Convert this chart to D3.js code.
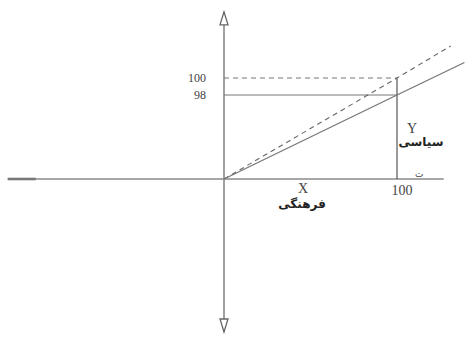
<!DOCTYPE html>
<html>
<head>
<meta charset="utf-8">
<script src="https://cdn.jsdelivr.net/npm/d3@7"></script>
<style>
body{margin:0;background:#fff;}
text{font-family:"Liberation Serif","DejaVu Serif",serif;fill:#444;}
</style>
</head>
<body>
<svg id="chart" width="465" height="342"></svg>
<script>
//data
var yTicks=[98,100];
var xTicks=[100];
var solidLine=[[0,0],[100,98],[139,115]];
var dashedLine=[[0,0],[100,100],[131,131]];
var axisX=[-125,127];
var axisY=[-160,164];
var xName=["X","فرهنگی"];
var yName=["Y","سیاسی"];

var svg=d3.select("#chart");
//piecewise scale, the sketch is not to scale
var x=d3.scaleLinear().domain([0,100]).range([224,397]);
var y=d3.scaleLinear().domain([-160,0,98,100,140]).range([332,179,95,78,36.7]);
var line=d3.line().x(function(d){return x(d[0]);}).y(function(d){return y(d[1]);});
var grey="#8a8a8a";

//axes
svg.append("line").attr("x1",x(axisX[0])).attr("x2",x(axisX[1])).attr("y1",y(0)).attr("y2",y(0))
    .attr("stroke",grey).attr("stroke-width",1.6);
svg.append("line").attr("x1",x(axisX[0])).attr("x2",x(axisX[0])+28).attr("y1",y(0)).attr("y2",y(0))
    .attr("stroke","#777").attr("stroke-width",2.6);
svg.append("line").attr("x1",x(0)).attr("x2",x(0)).attr("y1",y(axisY[0])).attr("y2",y(axisY[1]))
    .attr("stroke",grey).attr("stroke-width",1.6);
//arrow heads
var yTop=y(axisY[1]),yBot=y(axisY[0]),cx=x(0);
svg.append("path").attr("d","M"+cx+","+yTop+"L"+(cx-4)+","+(yTop+13)+"L"+(cx+4)+","+(yTop+13)+"Z")
    .attr("fill","#fff").attr("stroke","#666").attr("stroke-width",1.3);
svg.append("path").attr("d","M"+cx+","+yBot+"L"+(cx-4)+","+(yBot-13)+"L"+(cx+4)+","+(yBot-13)+"Z")
    .attr("fill","#fff").attr("stroke","#666").attr("stroke-width",1.3);

//guides
svg.append("line").attr("x1",x(0)).attr("x2",x(100)).attr("y1",y(100)).attr("y2",y(100))
    .attr("stroke","#777").attr("stroke-dasharray","5,4").attr("stroke-width",1);
svg.append("line").attr("x1",x(0)).attr("x2",x(100)).attr("y1",y(98)).attr("y2",y(98))
    .attr("stroke","#777").attr("stroke-width",1);
svg.append("line").attr("x1",x(100)).attr("x2",x(100)).attr("y1",y(100)).attr("y2",y(0))
    .attr("stroke","#555").attr("stroke-width",1.2);

//lines
svg.append("path").datum(dashedLine).attr("d",line).attr("fill","none")
    .attr("stroke","#666").attr("stroke-dasharray","5,4").attr("stroke-width",1.1);
svg.append("path").datum(solidLine).attr("d",line).attr("fill","none")
    .attr("stroke","#777").attr("stroke-width",1.3);

//tick labels
svg.selectAll(".yt").data(yTicks).enter().append("text")
    .attr("x",206).attr("y",function(d){return y(d)+4;})
    .attr("text-anchor","end").attr("font-size",12).text(function(d){return d;});
svg.selectAll(".xt").data(xTicks).enter().append("text")
    .attr("x",function(d){return x(d)+5;}).attr("y",195)
    .attr("text-anchor","middle").attr("font-size",14).text(function(d){return d;});
svg.append("text").attr("x",x(100)+18).attr("y",177).attr("font-size",9).text("ت");

//axis names
svg.append("text").attr("x",303).attr("y",193).attr("text-anchor","middle").attr("font-size",14).text(xName[0]);
svg.append("text").attr("x",302).attr("y",208).attr("text-anchor","middle").attr("font-size",12)
    .attr("font-weight","bold").style("font-family","'DejaVu Sans',sans-serif").style("fill","#222").text(xName[1]);
svg.append("text").attr("x",412).attr("y",133).attr("text-anchor","middle").attr("font-size",14).text(yName[0]);
svg.append("text").attr("x",421).attr("y",146).attr("text-anchor","middle").attr("font-size",12)
    .attr("font-weight","bold").style("font-family","'DejaVu Sans',sans-serif").style("fill","#222").text(yName[1]);
</script>
</body>
</html>
